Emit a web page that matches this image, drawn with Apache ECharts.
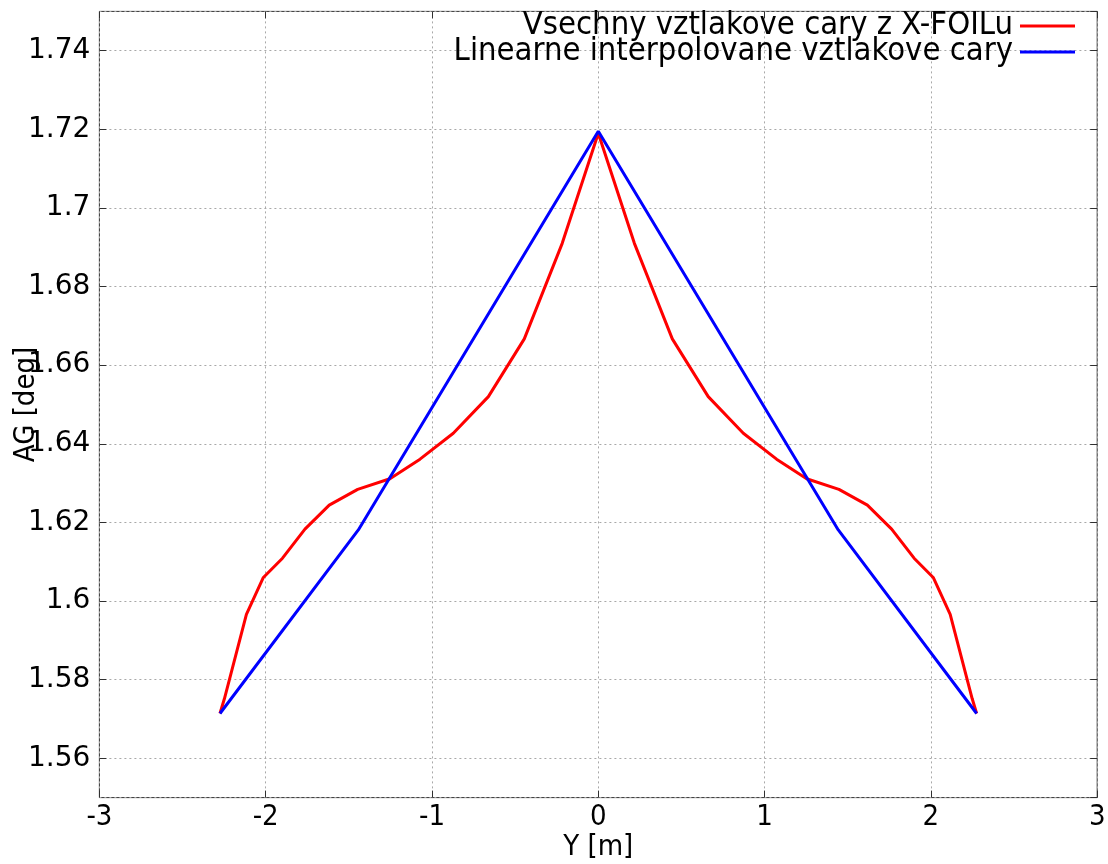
<!DOCTYPE html>
<html>
<head>
<meta charset="utf-8">
<script src="https://cdn.jsdelivr.net/npm/echarts@6/dist/echarts.min.js"></script>
<style>
html,body{margin:0;padding:0;background:#fff;}
#chart{width:1108px;height:864px;}
</style>
</head>
<body>
<div id="chart"></div>
<script>
// Data
const redY = [-2.275, -2.248, -2.116, -2.014, -1.899, -1.764, -1.618, -1.447, -1.253, -1.072, -0.872, -0.661, -0.445, -0.217, 0,
              0.217, 0.445, 0.661, 0.872, 1.072, 1.253, 1.447, 1.618, 1.764, 1.899, 2.014, 2.116, 2.248, 2.275];
const redAG = [1.5714, 1.5752, 1.5966, 1.6060, 1.6109, 1.6183, 1.6244, 1.6284, 1.6311, 1.6361, 1.6427, 1.6520, 1.6667, 1.6910, 1.7190,
               1.6910, 1.6667, 1.6520, 1.6427, 1.6361, 1.6311, 1.6284, 1.6244, 1.6183, 1.6109, 1.6060, 1.5966, 1.5752, 1.5714];
const blueY = [-2.275, -1.443, 0, 1.443, 2.275];
const blueAG = [1.5714, 1.6181, 1.7195, 1.6181, 1.5714];
const seriesNames = ['Vsechny vztlakove cary z X-FOILu', 'Linearne interpolovane vztlakove cary'];
const xTicks = [-3, -2, -1, 0, 1, 2, 3];
const yRange = [1.55, 1.75];
const yTicks = [1.56, 1.58, 1.6, 1.62, 1.64, 1.66, 1.68, 1.7, 1.72, 1.74];

const pairs = (xs, ys) => xs.map((x, i) => [x, ys[i]]);

const chart = echarts.init(document.getElementById('chart'), null, {renderer: 'canvas'});
const condensed = '"DejaVu Sans Condensed", "DejaVu Sans", sans-serif';
const gridLine = {show: true, lineStyle: {color: '#a8a8a8', type: [2, 3], width: 1}};
const tick = {show: true, inside: true, length: 7, lineStyle: {color: '#303030'}};

chart.setOption({
  backgroundColor: '#ffffff',
  animation: false,
  grid: {left: 99.4, right: 10.8, top: 11.4, bottom: 66.4, containLabel: false, outerBoundsMode: 'none',
         show: true, borderColor: '#303030', borderWidth: 1, backgroundColor: 'transparent'},
  legend: {
    orient: 'vertical',
    right: 28,
    top: 4.5,
    align: 'right',
    itemWidth: 55,
    itemHeight: 3,
    itemGap: -7,
    icon: 'rect',
    textStyle: {fontFamily: condensed, fontSize: 32.5, color: '#000', padding: [0, 2, 0, 0]},
    data: seriesNames
  },
  xAxis: [{
    type: 'value',
    min: xTicks[0], max: xTicks[xTicks.length - 1], interval: 1,
    name: 'Y [m]', nameLocation: 'middle', nameGap: 35, nameMoveOverlap: false,
    nameTextStyle: {fontFamily: condensed, fontSize: 29, color: '#000'},
    axisLine: {show: false, onZero: false},
    axisTick: tick,
    axisLabel: {fontFamily: condensed, fontSize: 29, color: '#000', margin: 5},
    splitLine: gridLine
  }, {
    type: 'value', position: 'top',
    min: xTicks[0], max: xTicks[xTicks.length - 1], interval: 1,
    axisLine: {show: false, onZero: false},
    axisTick: tick,
    axisLabel: {show: false},
    splitLine: {show: false}
  }],
  yAxis: [{
    type: 'value',
    min: yRange[0], max: yRange[1], splitNumber: 10,
    name: 'AG [deg]', nameLocation: 'middle', nameGap: 58, nameRotate: 90, nameMoveOverlap: false,
    nameTextStyle: {fontFamily: condensed, fontSize: 29, color: '#000'},
    axisLine: {show: false, onZero: false},
    axisTick: tick,
    axisLabel: {fontFamily: '"DejaVu Sans", sans-serif', fontSize: 28, color: '#000', margin: 9,
                showMinLabel: false, showMaxLabel: false,
                formatter: v => (yTicks.some(t => Math.abs(t - v) < 1e-6) ? String(+v.toFixed(2)) : '')},
    splitLine: gridLine
  }, {
    type: 'value', position: 'right',
    min: yRange[0], max: yRange[1], splitNumber: 10,
    axisLine: {show: false, onZero: false},
    axisTick: tick,
    axisLabel: {show: false},
    splitLine: {show: false}
  }],
  series: [{
    name: seriesNames[0], type: 'line', data: pairs(redY, redAG),
    showSymbol: false, symbol: 'none', color: '#ff0000',
    lineStyle: {color: '#ff0000', width: 3}, z: 3
  }, {
    name: seriesNames[1], type: 'line', data: pairs(blueY, blueAG),
    showSymbol: false, symbol: 'none', color: '#0000ff',
    lineStyle: {color: '#0000ff', width: 3}, z: 4
  }]
});
</script>
</body>
</html>
